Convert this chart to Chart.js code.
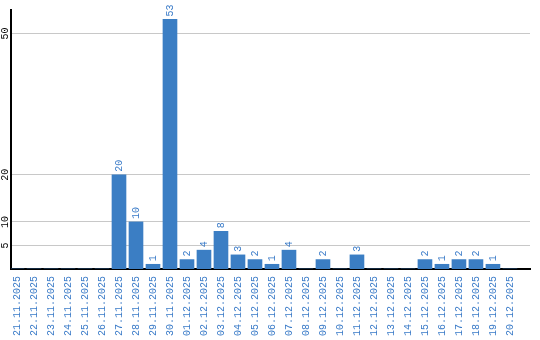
<!DOCTYPE html>
<html>
<head>
<meta charset="utf-8">
<script src="https://cdn.jsdelivr.net/npm/chart.js@4"></script>
<style>
html,body{margin:0;padding:0;background:#fff;}
#wrap{width:540px;height:340px;position:relative;}
</style>
</head>
<body>
<div id="wrap"><canvas id="c" width="540" height="340"></canvas></div>
<script>
const categories = ["21.11.2025","22.11.2025","23.11.2025","24.11.2025","25.11.2025","26.11.2025","27.11.2025","28.11.2025","29.11.2025","30.11.2025","01.12.2025","02.12.2025","03.12.2025","04.12.2025","05.12.2025","06.12.2025","07.12.2025","08.12.2025","09.12.2025","10.12.2025","11.12.2025","12.12.2025","13.12.2025","14.12.2025","15.12.2025","16.12.2025","17.12.2025","18.12.2025","19.12.2025","20.12.2025"];
const counts = [0,0,0,0,0,0,20,10,1,53,2,4,8,3,2,1,4,0,2,0,3,0,0,0,2,1,2,2,1,0];
const yTicks = [5,10,20,50];

const FAMILY = '"Liberation Mono", "DejaVu Sans Mono", monospace';
const FONT = '10px ' + FAMILY;
const BLUE_TEXT = '#3a7bc8';

const yLabelPlugin = {
  id:'yLabels',
  afterDraw(chart){
    const ctx = chart.ctx, y = chart.scales.y;
    ctx.save();
    ctx.font = FONT; ctx.fillStyle = '#000';
    ctx.textAlign = 'center'; ctx.textBaseline = 'middle';
    yTicks.forEach(t=>{
      const py = y.getPixelForValue(t);
      ctx.save(); ctx.translate(5, py); ctx.rotate(-Math.PI/2);
      ctx.fillText(String(t), 0, 0); ctx.restore();
    });
    ctx.restore();
  }
};
const valueLabelPlugin = {
  id:'valueLabels',
  afterDatasetsDraw(chart){
    const ctx = chart.ctx;
    const meta = chart.getDatasetMeta(0);
    ctx.save();
    ctx.font = FONT; ctx.fillStyle = BLUE_TEXT;
    ctx.textAlign = 'left'; ctx.textBaseline = 'middle';
    meta.data.forEach((bar,i)=>{
      const v = counts[i];
      if(!v) return;
      ctx.save(); ctx.translate(bar.x, bar.y - 3); ctx.rotate(-Math.PI/2);
      ctx.fillText(String(v), 0, 0); ctx.restore();
    });
    ctx.restore();
  }
};

new Chart(document.getElementById('c'), {
  type:'bar',
  data:{
    datasets:[{
      data: counts.map((v,i)=>({x:i, y:v})),
      backgroundColor:'#3b7ec4',
      borderWidth:0,
      barThickness:14
    }]
  },
  options:{
    responsive:false,
    animation:false,
    devicePixelRatio:1,
    layout:{padding:{top:10,right:10,left:0,bottom:0}},
    plugins:{legend:{display:false},tooltip:{enabled:false}},
    scales:{
      x:{
        type:'linear',
        min:-0.353, max:30.18,
        offset:false,
        afterBuildTicks(s){ s.ticks = categories.map((_,i)=>({value:i})); },
        afterFit(s){ s.height = 71; },
        ticks:{
          autoSkip:false, minRotation:90, maxRotation:90,
          color:BLUE_TEXT, font:{family:FAMILY, size:10},
          padding:7,
          callback:(v)=>categories[v]
        },
        grid:{display:false, drawTicks:false},
        border:{display:true, color:'#000', width:2}
      },
      y:{
        type:'linear', min:0, max:55,
        afterBuildTicks(s){ s.ticks = yTicks.map(v=>({value:v})); },
        afterFit(s){ s.width = 11; },
        ticks:{display:false},
        grid:{color:'#c8c8c8', lineWidth:1, drawTicks:false},
        border:{display:true, color:'#000', width:2}
      }
    }
  },
  plugins:[yLabelPlugin, valueLabelPlugin]
});
</script>
</body>
</html>
